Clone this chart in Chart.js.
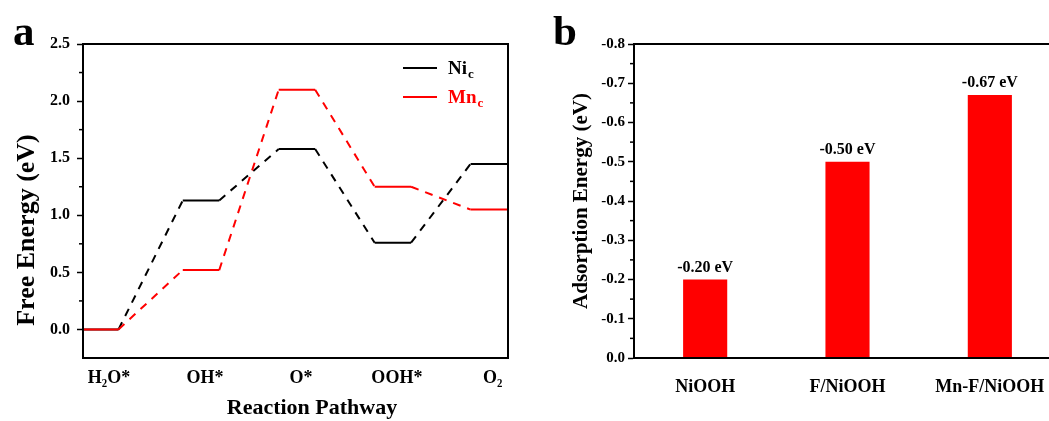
<!DOCTYPE html>
<html>
<head>
<meta charset="utf-8">
<script src="https://cdn.jsdelivr.net/npm/chart.js@4.4.1/dist/chart.umd.min.js"></script>
<style>
    html, body { margin: 0; padding: 0; background: #fff; overflow: hidden; width: 1049px; height: 421px; position: relative; }
    canvas { position: absolute; top: 0; }
    #freeChart { left: 0; }
    #adsChart { left: 540px; }
</style>
</head>
<body>
<canvas id="freeChart" width="540" height="421"></canvas>
<canvas id="adsChart" width="530" height="421"></canvas>
<script>
const SERIF = "'Liberation Serif', 'Times New Roman', serif";

// panel a: free energy diagram
const stages = ['H₂O*', 'OH*', 'O*', 'OOH*', 'O₂'];
const niEnergy = [0, 1.13, 1.58, 0.76, 1.45];
const mnEnergy = [0, 0.52, 2.10, 1.25, 1.05];
const energyTicks = [0, 0.5, 1.0, 1.5, 2.0, 2.5];

// panel b: adsorption energy
const materials = ['NiOOH', 'F/NiOOH', 'Mn-F/NiOOH'];
const adsEnergy = [-0.20, -0.50, -0.67];
const adsTicks = [0, -0.1, -0.2, -0.3, -0.4, -0.5, -0.6, -0.7, -0.8];

const series = [
    { name: 'Mn', sub: 'c', values: mnEnergy, color: '#ff0000' },
    { name: 'Ni', sub: 'c', values: niEnergy, color: '#000000' }
];

const HALF = 0.19; // half width of an energy level, in stage units

function levelPoints(vals) {
    const pts = [];
    vals.forEach((v, i) => {
        pts.push({ x: i === 0 ? -0.5 : i - HALF, y: v });
        pts.push({ x: i === 0 ? HALF - 0.05 : i + HALF, y: v });
        pts.push({ x: i + 0.5, y: null });
    });
    return pts;
}

function linkPoints(vals) {
    const pts = [];
    for (let i = 0; i < vals.length - 1; i++) {
        pts.push({ x: i === 0 ? HALF - 0.05 : i + HALF, y: vals[i] });
        pts.push({ x: i + 1 - HALF, y: vals[i + 1] });
        pts.push({ x: i + 1, y: null });
    }
    return pts;
}

const datasets = [];
series.forEach(s => {
    datasets.push({ data: levelPoints(s.values), borderColor: s.color, borderWidth: 2, pointRadius: 0, spanGaps: false });
    datasets.push({ data: linkPoints(s.values), borderColor: s.color, borderWidth: 2, borderDash: [8, 7], pointRadius: 0, spanGaps: false });
});

const frame = {
    id: 'frame',
    afterDraw(chart) {
        const { ctx, chartArea: a } = chart;
        ctx.save();
        ctx.strokeStyle = '#000';
        ctx.lineWidth = 2;
        ctx.strokeRect(a.left, a.top, a.right - a.left, a.bottom - a.top);
        ctx.restore();
    }
};

const minorTicks = {
    id: 'minorTicks',
    afterDraw(chart) {
        const y = chart.scales.y;
        const ctx = chart.ctx;
        const vals = y.ticks.map(t => t.value);
        ctx.save();
        ctx.strokeStyle = '#000';
        ctx.lineWidth = 1.5;
        for (let i = 0; i < vals.length - 1; i++) {
            const p = y.getPixelForValue((vals[i] + vals[i + 1]) / 2);
            ctx.beginPath();
            ctx.moveTo(y.right - 4, p);
            ctx.lineTo(y.right, p);
            ctx.stroke();
        }
        ctx.restore();
    }
};

function panelTag(letter) {
    return {
        id: 'tag' + letter,
        afterDraw(chart) {
            const ctx = chart.ctx;
            ctx.save();
            ctx.fillStyle = '#000';
            ctx.font = 'bold 43px ' + SERIF;
            ctx.textBaseline = 'alphabetic';
            ctx.fillText(letter, 13, 45);
            ctx.restore();
        }
    };
}

// axis titles of panel a sit a little off-centre in the original
const freeTitles = {
    id: 'freeTitles',
    afterDraw(chart) {
        const ctx = chart.ctx;
        ctx.save();
        ctx.fillStyle = '#000';
        ctx.textAlign = 'center';
        ctx.textBaseline = 'middle';
        ctx.font = 'bold 22px ' + SERIF;
        ctx.fillText('Reaction Pathway', 312, 408);
        ctx.translate(27, 230);
        ctx.rotate(-Math.PI / 2);
        ctx.font = 'bold 26px ' + SERIF;
        ctx.fillText('Free Energy (eV)', 0, 0);
        ctx.restore();
    }
};

const seriesLegend = {
    id: 'seriesLegend',
    afterDraw(chart) {
        const ctx = chart.ctx;
        const order = [series[1], series[0]];
        ctx.save();
        order.forEach((s, i) => {
            const y = 68 + i * 29;
            ctx.strokeStyle = s.color;
            ctx.lineWidth = 2;
            ctx.beginPath();
            ctx.moveTo(403, y);
            ctx.lineTo(437, y);
            ctx.stroke();
            ctx.fillStyle = s.color;
            ctx.textBaseline = 'alphabetic';
            ctx.font = 'bold 19px ' + SERIF;
            ctx.fillText(s.name, 448, y + 6);
            const w = ctx.measureText(s.name).width;
            ctx.font = 'bold 13px ' + SERIF;
            ctx.fillText(s.sub, 448 + w + 1, y + 10);
        });
        ctx.restore();
    }
};

new Chart(document.getElementById('freeChart'), {
    type: 'line',
    data: { datasets: datasets },
    options: {
        responsive: false,
        animation: false,
        layout: { padding: { top: 44, right: 32, left: 0, bottom: 0 } },
        plugins: { legend: { display: false }, tooltip: { enabled: false } },
        scales: {
            x: {
                type: 'linear',
                min: -0.23,
                max: 4.2,
                afterBuildTicks: s => { s.ticks = stages.map((_, i) => ({ value: i })); },
                afterFit: s => { s.height = 63; },
                grid: { display: false },
                border: { color: '#000', width: 2 },
                ticks: {
                    padding: 2,
                    labelOffset: 4,
                    color: '#000',
                    font: { family: SERIF, size: 18, weight: 'bold' },
                    callback: v => stages[v]
                }
            },
            y: {
                min: -0.25,
                max: 2.5,
                afterBuildTicks: s => { s.ticks = energyTicks.map(v => ({ value: v })); },
                afterFit: s => { s.width = 83; },
                grid: { drawOnChartArea: false, tickLength: 6, tickWidth: 1.5, tickColor: '#000' },
                border: { color: '#000', width: 2 },
                ticks: {
                    padding: 7,
                    color: '#000',
                    font: { family: SERIF, size: 16, weight: 'bold' },
                    callback: v => v.toFixed(1)
                }
            }
        }
    },
    plugins: [frame, minorTicks, seriesLegend, freeTitles, panelTag('a')]
});

const barLabels = {
    id: 'barLabels',
    afterDatasetsDraw(chart) {
        const ctx = chart.ctx;
        const meta = chart.getDatasetMeta(0);
        ctx.save();
        ctx.fillStyle = '#000';
        ctx.font = 'bold 16px ' + SERIF;
        ctx.textAlign = 'center';
        ctx.textBaseline = 'alphabetic';
        meta.data.forEach((bar, i) => {
            ctx.fillText(adsEnergy[i].toFixed(2) + ' eV', bar.x, bar.y - 8);
        });
        ctx.restore();
    }
};

new Chart(document.getElementById('adsChart'), {
    type: 'bar',
    data: {
        labels: materials,
        datasets: [{
            data: adsEnergy,
            backgroundColor: '#ff0000',
            borderWidth: 0,
            barPercentage: 0.31,
            categoryPercentage: 1.0
        }]
    },
    options: {
        responsive: false,
        animation: false,
        layout: { padding: { top: 44, right: 9, left: 0, bottom: 0 } },
        plugins: { legend: { display: false }, tooltip: { enabled: false } },
        scales: {
            x: {
                afterFit: s => { s.height = 63; },
                grid: { display: false },
                border: { color: '#000', width: 2 },
                ticks: {
                    padding: 11,
                    color: '#000',
                    font: { family: SERIF, size: 18, weight: 'bold' }
                }
            },
            y: {
                min: -0.8,
                max: 0,
                reverse: true,
                afterBuildTicks: s => { s.ticks = adsTicks.map(v => ({ value: v })); },
                afterFit: s => { s.width = 94; },
                grid: { drawOnChartArea: false, tickLength: 6, tickWidth: 1.5, tickColor: '#000' },
                border: { color: '#000', width: 2 },
                ticks: {
                    padding: 3,
                    color: '#000',
                    font: { family: SERIF, size: 15, weight: 'bold' },
                    callback: v => v.toFixed(1)
                },
                title: {
                    display: true,
                    text: 'Adsorption Energy (eV)',
                    color: '#000',
                    font: { family: SERIF, size: 21, weight: 'bold' },
                    padding: { top: 29, bottom: 0 }
                }
            }
        }
    },
    plugins: [frame, minorTicks, barLabels, panelTag('b')]
});
</script>
</body>
</html>
